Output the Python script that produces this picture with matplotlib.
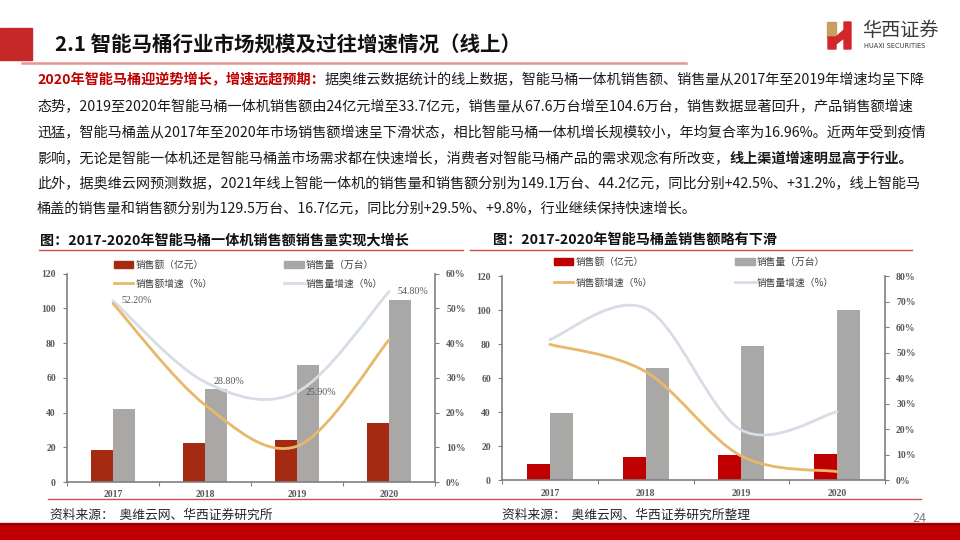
import numpy as np
import matplotlib.pyplot as plt
from matplotlib.path import Path
from matplotlib.patches import PathPatch, Rectangle, Polygon
from matplotlib.lines import Line2D
from matplotlib.font_manager import FontProperties

plt.rcParams['font.family'] = ['Noto Sans CJK SC', 'DejaVu Sans']

W, H = 960, 540

# ---- 数据 ----
years = ['2017', '2018', '2019', '2020']
# 智能马桶一体机
yt_sales = [18.4, 22.4, 24.2, 33.7]      # 销售额（亿元）
yt_volume = [42.1, 53.8, 67.6, 104.6]    # 销售量（万台）
yt_sales_g = [51.4, 22.2, 10.3, 40.9]    # 销售额增速 %
yt_volume_g = [52.2, 28.8, 25.9, 54.8]   # 销售量增速 %
yt_labels = ['52.20%', '28.80%', '25.90%', '54.80%']
# 智能马桶盖
gai_sales = [9.6, 13.5, 14.9, 15.3]
gai_volume = [39.4, 65.9, 78.8, 100.0]
gai_sales_g = [53.3, 42.6, 9.5, 3.4]
gai_volume_g = [55.2, 67.4, 19.7, 26.9]

legend_names = ['销售额（亿元）', '销售额增速（%）', '销售量（万台）', '销售量增速（%）']

para_lines = [
    [('2020年智能马桶迎逆势增长，增速远超预期：', '#C00000', 'bold'),
     ('据奥维云数据统计的线上数据，智能马桶一体机销售额、销售量从2017年至2019年增速均呈下降', '#1a1a1a', 'normal')],
    [('态势，2019至2020年智能马桶一体机销售额由24亿元增至33.7亿元，销售量从67.6万台增至104.6万台，销售数据显著回升，产品销售额增速', '#1a1a1a', 'normal')],
    [('迅猛，智能马桶盖从2017年至2020年市场销售额增速呈下滑状态，相比智能马桶一体机增长规模较小，年均复合率为16.96%。近两年受到疫情', '#1a1a1a', 'normal')],
    [('影响，无论是智能一体机还是智能马桶盖市场需求都在快速增长，消费者对智能马桶产品的需求观念有所改变，', '#1a1a1a', 'normal'),
     ('线上渠道增速明显高于行业。', '#1a1a1a', 'bold')],
    [('此外，据奥维云网预测数据，2021年线上智能一体机的销售量和销售额分别为149.1万台、44.2亿元，同比分别+42.5%、+31.2%，线上智能马', '#1a1a1a', 'normal')],
    [('桶盖的销售量和销售额分别为129.5万台、16.7亿元，同比分别+29.5%、+9.8%，行业继续保持快速增长。', '#1a1a1a', 'normal')],
]
para_y = [80, 107, 133, 159, 184, 209]

GRAY = '#AAA8A6'
ORANGE = '#E8B86A'
BLUE = '#D6DDE6'
SERIF = 'Liberation Serif'


def fx(px):
    return px / W


def fy(py):
    return 1 - py / H


def smooth_path(xs, ys):
    # Excel 风格的平滑线（Catmull-Rom 转贝塞尔）
    pts = np.column_stack([xs, ys]).astype(float)
    ext = np.vstack([pts[0], pts, pts[-1]])
    verts = [pts[0]]
    codes = [Path.MOVETO]
    for i in range(len(pts) - 1):
        p0, p1, p2, p3 = ext[i], ext[i + 1], ext[i + 2], ext[i + 3]
        verts += [p1 + (p2 - p0) / 6, p2 - (p3 - p1) / 6, p2]
        codes += [Path.CURVE4] * 3
    return Path(verts, codes)


fig = plt.figure(figsize=(9.6, 5.4), dpi=100)
renderer = fig.canvas.get_renderer()

# ---- 页眉 ----
fig.patches.append(Rectangle((0, fy(60)), fx(32), (60 - 28) / H, transform=fig.transFigure,
                             color='#C62828', zorder=1))
fig.text(fx(55), fy(45), '2.1 智能马桶行业市场规模及过往增速情况（线上）', fontsize=14.8,
         fontweight='bold', color='#111111', va='center', ha='left')
fig.add_artist(Line2D([fx(22), fx(686)], [fy(63), fy(63)], color='#E99393', lw=1.8))

# logo
fig.patches.append(Polygon([(fx(827), fy(22)), (fx(836), fy(22)), (fx(836), fy(37)), (fx(827), fy(37))],
                           closed=True, transform=fig.transFigure, color='#C4A062'))
fig.patches.append(Polygon([(fx(828), fy(37)), (fx(836), fy(37)), (fx(844), fy(30)), (fx(844), fy(22)),
                            (fx(851), fy(22)), (fx(851), fy(49)), (fx(844), fy(49)), (fx(844), fy(38)),
                            (fx(836), fy(44)), (fx(836), fy(49)), (fx(828), fy(49))],
                           closed=True, transform=fig.transFigure, color='#D3262B'))
fig.text(fx(862), fy(31), '华西证券', fontsize=13.8, color='#3a3a3a', va='center', ha='left')
fig.text(fx(864), fy(46), 'HUAXI SECURITIES', fontsize=4.8, color='#3a3a3a', va='center', ha='left',
         family='DejaVu Sans')

# ---- 正文 ----
for y, runs in zip(para_y, para_lines):
    x = 37
    for txt, col, wt in runs:
        t = fig.text(fx(x), fy(y), txt, fontsize=10.2, color=col, fontweight=wt, va='center', ha='left')
        x += t.get_window_extent(renderer).width

# ---- 图表标题 ----
fig.text(fx(40), fy(240), '图：2017-2020年智能马桶一体机销售额销售量实现大增长', fontsize=10.2,
         fontweight='bold', color='#111111', va='center')
fig.text(fx(493), fy(240), '图：2017-2020年智能马桶盖销售额略有下滑', fontsize=10.2,
         fontweight='bold', color='#111111', va='center')
fig.add_artist(Line2D([fx(39), fx(463)], [fy(250), fy(250)], color='#D24A4A', lw=1.0))
fig.add_artist(Line2D([fx(470), fx(912)], [fy(250), fy(250)], color='#D24A4A', lw=1.0))


def make_chart(left, right, zero_y, top_y, sales, vol, sg, vg, red, ymax2, step2,
               leg_xy, leg_colsp, leg_rowsp):
    ax = fig.add_axes([fx(left), fy(zero_y), (right - left) / W, (zero_y - top_y) / H])
    x = np.arange(len(years))
    w = 0.24
    ax.bar(x - w / 2, sales, w, color=red, zorder=2)
    ax.bar(x + w / 2, vol, w, color=GRAY, zorder=2)
    ax.set_xlim(-0.5, len(years) - 0.5)
    ax.set_ylim(0, 120)
    ax.set_yticks(range(0, 121, 20))
    ax.set_yticklabels([str(v) for v in range(0, 121, 20)], family=SERIF, fontweight='bold',
                       fontsize=7, color='#595959')
    ax.set_xticks(np.arange(-0.5, len(years), 1))
    ax.set_xticklabels([])
    ax.set_xticks(x, minor=True)
    ax.set_xticklabels(years, minor=True, family=SERIF, fontweight='bold', fontsize=7, color='#595959')
    ax.tick_params(axis='x', which='minor', length=0, pad=6)
    ax.tick_params(axis='x', which='major', length=3, color='#808080', direction='out')
    ax.tick_params(axis='y', length=3, color='#808080', pad=5)
    for s in ['top', 'right']:
        ax.spines[s].set_visible(False)
    for s in ['left', 'bottom']:
        ax.spines[s].set_color('#808080')
        ax.spines[s].set_linewidth(1.2)
    ax.set_facecolor('none')

    ax2 = ax.twinx()
    ax2.set_ylim(0, ymax2)
    ticks2 = list(range(0, ymax2 + 1, step2))
    ax2.set_yticks(ticks2)
    ax2.set_yticklabels([f'{v}%' for v in ticks2], family=SERIF, fontweight='bold', fontsize=7,
                        color='#595959')
    ax2.tick_params(axis='y', length=3, color='#808080', pad=5)
    for s in ['top', 'left', 'bottom']:
        ax2.spines[s].set_visible(False)
    ax2.spines['right'].set_color('#808080')
    ax2.spines['right'].set_linewidth(1.2)
    ax2.add_patch(PathPatch(smooth_path(x, vg), fill=False, edgecolor=BLUE, lw=2.0, capstyle='round'))
    ax2.add_patch(PathPatch(smooth_path(x, sg), fill=False, edgecolor=ORANGE, lw=2.0, capstyle='round'))

    handles = [Rectangle((0, 0), 1, 1, color=red), Line2D([], [], color=ORANGE, lw=2),
               Rectangle((0, 0), 1, 1, color=GRAY), Line2D([], [], color=BLUE, lw=2)]
    ax2.legend(handles, legend_names, ncol=2, loc='upper left',
               bbox_to_anchor=(fx(leg_xy[0]), fy(leg_xy[1])), bbox_transform=fig.transFigure,
               frameon=False, prop=FontProperties(family='Noto Sans CJK SC', size=7),
               handlelength=2.0, handletextpad=0.2, columnspacing=leg_colsp,
               labelspacing=leg_rowsp, borderpad=0, borderaxespad=0, labelcolor='#404040')
    return ax, ax2


axL, axL2 = make_chart(67, 435, 482, 273.6, yt_sales, yt_volume, yt_sales_g, yt_volume_g,
                       '#A52A12', 60, 10, (114, 259.5), 7.4, 0.95)
for i, lab in enumerate(yt_labels):
    axL2.annotate(lab, (i, yt_volume_g[i]), xytext=(6, 0), textcoords='offset points',
                  ha='left', va='center', family=SERIF, fontsize=7.2, color='#595959')

axR, axR2 = make_chart(502, 885, 480.3, 276.3, gai_sales, gai_volume, gai_sales_g, gai_volume_g,
                       '#C00000', 80, 10, (554, 256.5), 8.5, 1.15)

# ---- 底部 ----
fig.add_artist(Line2D([fx(48), fx(921)], [fy(499), fy(499)], color='#D65050', lw=1.0))
fig.text(fx(50), fy(515), '资料来源：  奥维云网、华西证券研究所', fontsize=9.2, color='#262626', va='center')
fig.text(fx(502), fy(515), '资料来源：  奥维云网、华西证券研究所整理', fontsize=9.2, color='#262626',
         va='center')
fig.text(fx(912), fy(519), '24', fontsize=9, color='#808080', va='center')
fig.patches.append(Rectangle((0, 0), 1, (540 - 523) / H, transform=fig.transFigure, color='#C00000'))
fig.add_artist(Line2D([0, 1], [fy(523.5), fy(523.5)], color='#7A0000', lw=1.0))

fig.savefig('out.png', dpi=100)
